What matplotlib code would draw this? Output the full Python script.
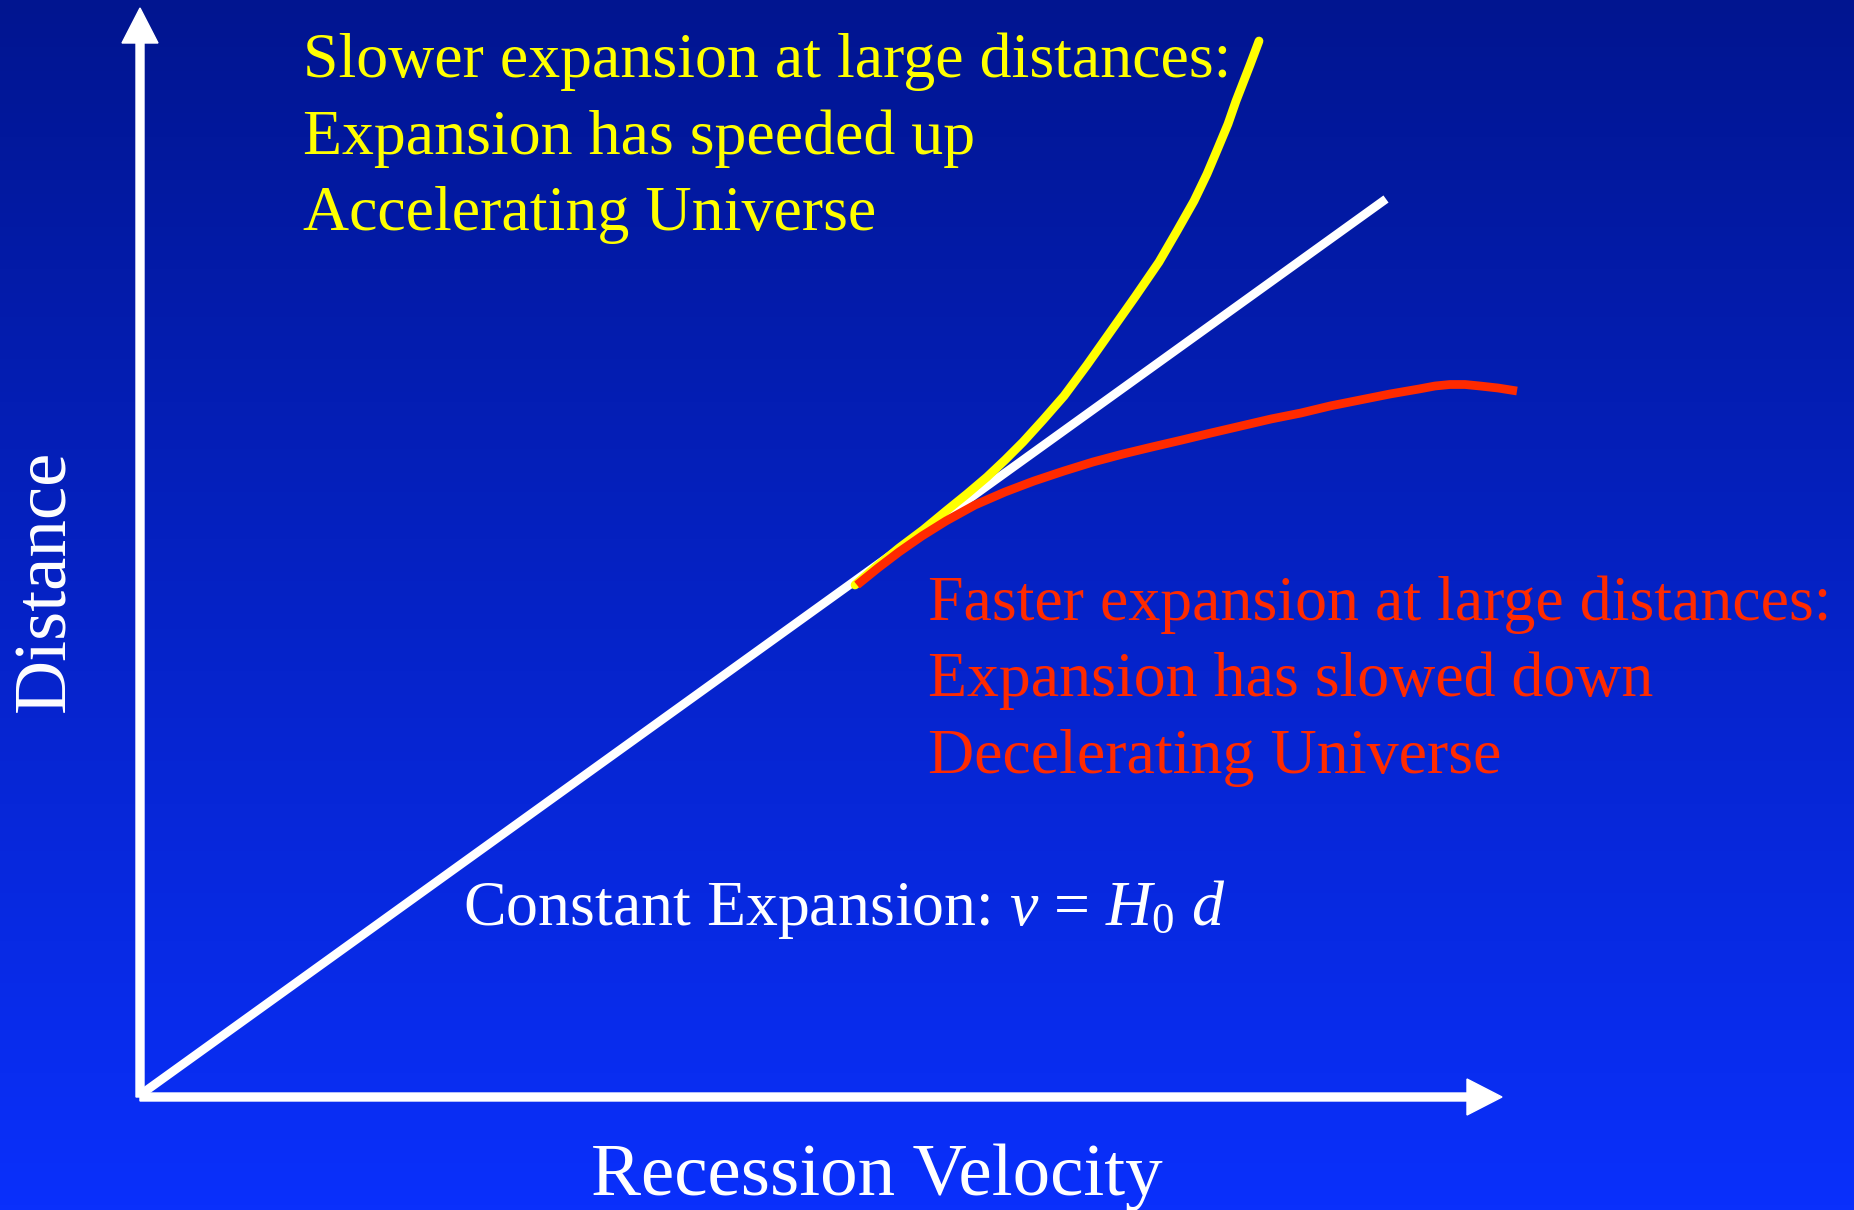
import numpy as np
import matplotlib.pyplot as plt
from matplotlib.colors import LinearSegmentedColormap

plt.rcParams['font.family'] = ['Liberation Serif', 'DejaVu Serif']
plt.rcParams['mathtext.fontset'] = 'custom'
plt.rcParams['mathtext.rm'] = 'Liberation Serif'
plt.rcParams['mathtext.it'] = 'Liberation Serif:italic'

# diagram data (arbitrary units: velocity, distance)
const_v = [0.0, 12.46]
const_d = [0.0, 8.96]

accel_v = [7.15, 7.37, 7.59, 7.83, 8.06, 8.27, 8.47, 8.65, 8.83, 9.03, 9.24, 9.47,
           9.71, 9.95, 10.19, 10.37, 10.54, 10.67, 10.78, 10.88, 10.96, 11.03, 11.10, 11.19]
accel_d = [5.10, 5.29, 5.47, 5.65, 5.84, 6.01, 6.18, 6.35, 6.53, 6.75, 6.99, 7.30,
           7.64, 7.98, 8.33, 8.64, 8.94, 9.21, 9.47, 9.71, 9.94, 10.12, 10.30, 10.54]

decel_v = [7.17, 7.38, 7.59, 7.82, 8.06, 8.35, 8.65, 8.94, 9.24, 9.53, 9.83, 10.12, 10.42,
           10.71, 11.01, 11.31, 11.61, 11.90, 12.20, 12.50, 12.79, 12.95, 13.10, 13.25,
           13.40, 13.58, 13.77]
decel_d = [5.10, 5.27, 5.43, 5.59, 5.74, 5.90, 6.03, 6.14, 6.24, 6.33, 6.41, 6.48, 6.55,
           6.62, 6.69, 6.76, 6.82, 6.89, 6.95, 7.01, 7.06, 7.09, 7.105, 7.105,
           7.09, 7.07, 7.04]

accel_lines = ["Slower expansion at large distances:",
               "Expansion has speeded up",
               "Accelerating Universe"]
decel_lines = ["Faster expansion at large distances:",
               "Expansion has slowed down",
               "Decelerating Universe"]
const_label = r"Constant Expansion: $v$ = $H_0$ $d$"
xlabel = "Recession Velocity"
ylabel = "Distance"

fig = plt.figure(figsize=(18.54, 12.10), dpi=100)
ax = fig.add_axes([0, 0, 1, 1])
ax.set_xlim(-1.40, 17.14)
ax.set_ylim(-1.15, 10.95)
ax.axis('off')

# background gradient
bg = LinearSegmentedColormap.from_list('bg', ['#0a30fc', '#011590'])
grad = np.linspace(0, 1, 256).reshape(-1, 1)
ax.imshow(grad, cmap=bg, extent=[-1.40, 17.14, -1.15, 10.95], aspect='auto',
          origin='lower', zorder=0)

# axes arrows
ax.arrow(0, -0.02, 13.62, 0, width=0.08, head_width=0.36, head_length=0.35,
         length_includes_head=True, color='white', zorder=2)
ax.arrow(0, -0.02, 0, 10.89, width=0.08, head_width=0.36, head_length=0.35,
         length_includes_head=True, color='white', zorder=2)

lw = 6.3
ax.plot(const_v, const_d, color='white', lw=lw, solid_capstyle='butt', zorder=3)
ax.plot(accel_v, accel_d, color='#ffff00', lw=lw, solid_capstyle='round',
        solid_joinstyle='round', zorder=4)
ax.plot(decel_v, decel_d, color='#ff2a00', lw=lw, solid_capstyle='butt',
        solid_joinstyle='round', zorder=5)

fs = 46
for i, s in enumerate(accel_lines):
    ax.text(1.63, 10.18 - 0.765 * i, s, color='#ffff00', fontsize=fs,
            va='baseline', ha='left', zorder=6)
for i, s in enumerate(decel_lines):
    ax.text(7.88, 4.75 - 0.765 * i, s, color='#ff2a00', fontsize=fs,
            va='baseline', ha='left', zorder=6)
ax.text(3.23, 1.70, const_label, color='white', fontsize=fs,
        va='baseline', ha='left', zorder=6)

ax.text(4.51, -1.00, xlabel, color='white', fontsize=54,
        va='baseline', ha='left', zorder=6)
ax.text(-0.93, 5.14, ylabel, color='white', fontsize=54, rotation=90,
        va='center', ha='center', zorder=6)

fig.savefig('out.png', dpi=100)
